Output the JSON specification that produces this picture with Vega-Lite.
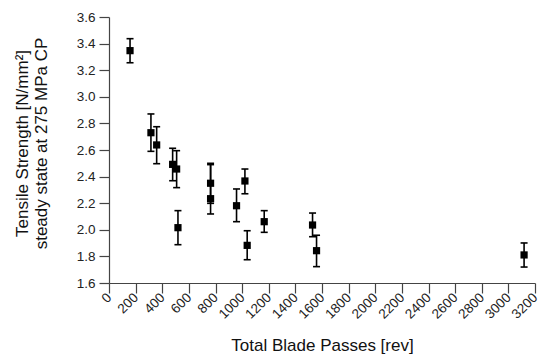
{
  "$schema": "https://vega.github.io/schema/vega-lite/v6.json",
  "autosize": "none",
  "width": 426,
  "height": 266,
  "padding": {"left": 109, "top": 17, "right": 15, "bottom": 81},
  "background": "white",
  "config": {
    "view": {"stroke": null},
    "font": "Liberation Sans",
    "axis": {
      "grid": false,
      "domainColor": "#444",
      "tickColor": "#444",
      "domainWidth": 1.2,
      "tickWidth": 1.2,
      "tickSize": 10,
      "labelColor": "#222",
      "titleColor": "#111",
      "labelFont": "Liberation Sans",
      "titleFont": "Liberation Sans",
      "labelFontSize": 13.5,
      "titleFontSize": 17,
      "titleFontWeight": "normal",
      "labelOverlap": false,
      "labelFlush": false,
      "labelBound": false
    }
  },
  "data": {
    "values": [
      {"passes": 158, "ts": 3.347, "lo": 3.256, "hi": 3.437},
      {"passes": 315, "ts": 2.730, "lo": 2.590, "hi": 2.871},
      {"passes": 358, "ts": 2.638, "lo": 2.497, "hi": 2.775},
      {"passes": 478, "ts": 2.492, "lo": 2.369, "hi": 2.613},
      {"passes": 508, "ts": 2.457, "lo": 2.317, "hi": 2.595},
      {"passes": 518, "ts": 2.016, "lo": 1.888, "hi": 2.144},
      {"passes": 763, "ts": 2.350, "lo": 2.199, "hi": 2.500},
      {"passes": 763, "ts": 2.234, "lo": 2.119, "hi": 2.490},
      {"passes": 958, "ts": 2.181, "lo": 2.061, "hi": 2.307},
      {"passes": 1021, "ts": 2.367, "lo": 2.271, "hi": 2.457},
      {"passes": 1038, "ts": 1.883, "lo": 1.775, "hi": 1.993},
      {"passes": 1166, "ts": 2.061, "lo": 1.981, "hi": 2.144},
      {"passes": 1529, "ts": 2.036, "lo": 1.948, "hi": 2.126},
      {"passes": 1559, "ts": 1.843, "lo": 1.723, "hi": 1.959},
      {"passes": 3118, "ts": 1.811, "lo": 1.720, "hi": 1.901}
    ]
  },
  "encoding": {
    "x": {
      "field": "passes",
      "type": "quantitative",
      "scale": {"domain": [0, 3200], "nice": false, "zero": false},
      "axis": {
        "title": "Total Blade Passes [rev]",
        "values": [0,200,400,600,800,1000,1200,1400,1600,1800,2000,2200,2400,2600,2800,3000,3200],
        "tickCount": 17,
        "format": "d",
        "labelAngle": -45,
        "labelAlign": "right",
        "labelBaseline": "middle",
        "labelPadding": 2,
        "labelOverlap": false,
        "titlePadding": 17
      }
    }
  },
  "layer": [
    {
      "mark": {"type": "square", "size": 52, "color": "black", "opacity": 1},
      "encoding": {
        "y": {
          "field": "ts",
          "type": "quantitative",
          "scale": {"domain": [1.6, 3.6], "nice": false, "zero": false},
          "axis": {
            "title": ["Tensile Strength [N/mm²]", "steady state at 275 MPa CP"],
            "values": [1.6,1.8,2.0,2.2,2.4,2.6,2.8,3.0,3.2,3.4,3.6],
            "tickCount": 11,
            "format": ".1f",
            "labelOverlap": false,
            "titlePadding": 26,
            "titleLineHeight": 19,
            "titleY": 126,
            "labelPadding": 4
          }
        }
      }
    },
    {
      "mark": {"type": "rule", "color": "black", "strokeWidth": 1.6},
      "encoding": {
        "y": {"field": "lo", "type": "quantitative"},
        "y2": {"field": "hi"}
      }
    },
    {
      "mark": {"type": "tick", "orient": "horizontal", "size": 7, "thickness": 1.6, "color": "black", "opacity": 1},
      "encoding": {
        "y": {"field": "lo", "type": "quantitative"}
      }
    },
    {
      "mark": {"type": "tick", "orient": "horizontal", "size": 7, "thickness": 1.6, "color": "black", "opacity": 1},
      "encoding": {
        "y": {"field": "hi", "type": "quantitative"}
      }
    }
  ]
}
